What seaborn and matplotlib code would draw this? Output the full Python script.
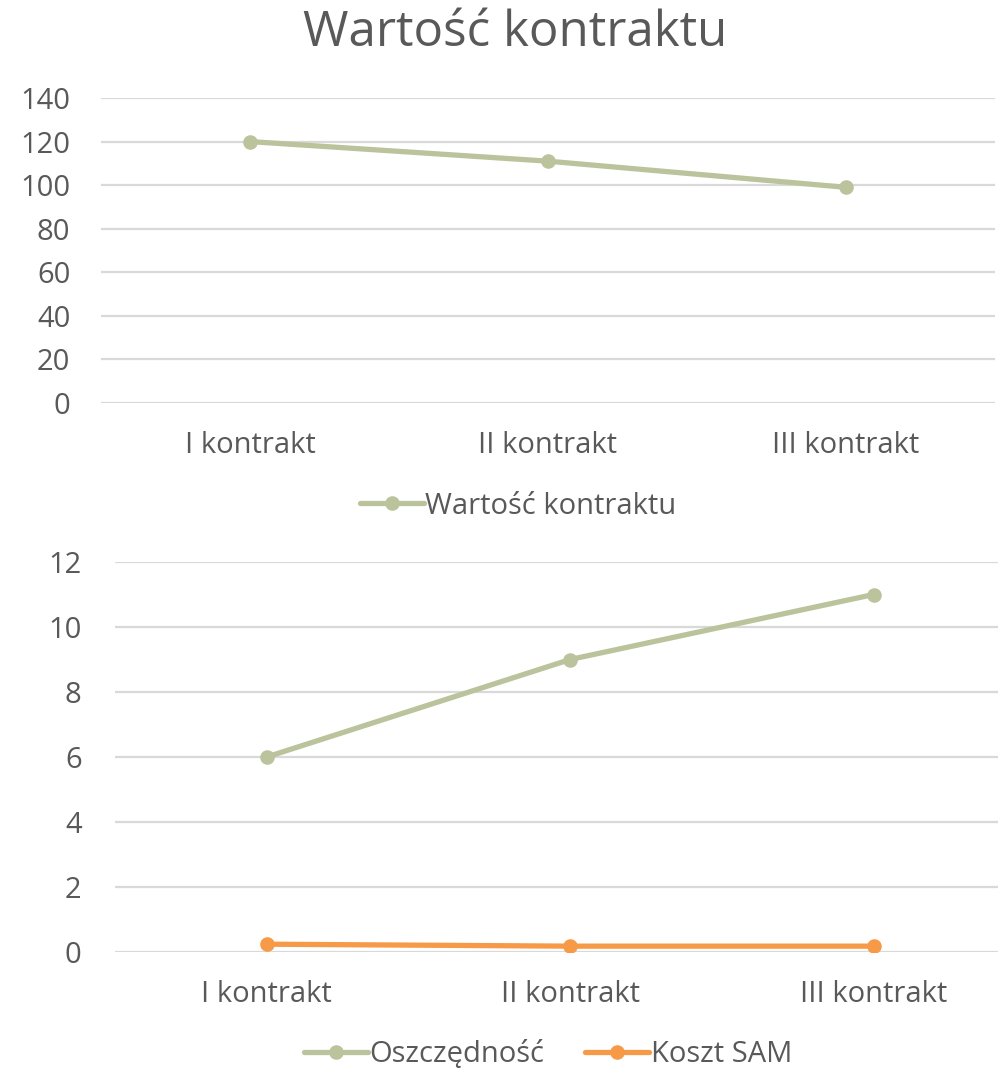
import matplotlib
matplotlib.use("Agg")
import matplotlib.pyplot as plt
import seaborn as sns
import pandas as pd

categories = ["I kontrakt", "II kontrakt", "III kontrakt"]
wartosc = [120, 111, 99]
oszczednosc = [6, 9, 11]
koszt_sam = [0.24, 0.18, 0.18]

top_ticks = [0, 20, 40, 60, 80, 100, 120, 140]
bottom_ticks = [0, 2, 4, 6, 8, 10, 12]

GREEN = "#BBC39D"
ORANGE = "#F79A48"
TEXT = "#595959"
GRID = "#D9D9D9"

sns.set_theme(style="white")
plt.rcParams["font.family"] = ["Open Sans", "DejaVu Sans"]

fig = plt.figure(figsize=(9.98, 10.72), dpi=100)

ax1 = fig.add_axes([101 / 998, 1 - 403 / 1072, 894 / 998, 305 / 1072])
ax2 = fig.add_axes([115 / 998, 1 - 952 / 1072, 883 / 998, 390 / 1072])

df1 = pd.DataFrame({"kat": categories, "val": wartosc, "s": "Wartość kontraktu"})
df2 = pd.concat([
    pd.DataFrame({"kat": categories, "val": oszczednosc, "s": "Oszczędność"}),
    pd.DataFrame({"kat": categories, "val": koszt_sam, "s": "Koszt SAM"}),
])

line_kw = dict(linewidth=3.8, marker="o", markersize=10.5, markeredgewidth=0)

sns.lineplot(data=df1, x="kat", y="val", hue="s", palette=[GREEN], sort=False,
             ax=ax1, legend=True, **line_kw)
sns.lineplot(data=df2, x="kat", y="val", hue="s", palette=[GREEN, ORANGE], sort=False,
             ax=ax2, legend=True, **line_kw)

for ax, ticks, xr, ypad in [(ax1, top_ticks, (-0.5, 2.5), 22), (ax2, bottom_ticks, (-0.5, 2.41), 24)]:
    ax.set_ylim(ticks[0], ticks[-1])
    ax.set_yticks(ticks)
    ax.set_xlim(*xr)
    ax.set_xlabel("")
    ax.set_ylabel("")
    for sp in ax.spines.values():
        sp.set_visible(False)
    ax.yaxis.grid(True, color=GRID, linewidth=1.6)
    ax.set_axisbelow(True)
    ax.tick_params(axis="both", length=0, labelsize=21, colors=TEXT)
    ax.tick_params(axis="y", pad=ypad)
    ax.tick_params(axis="x", pad=20)
    for t in ax.get_xticklabels() + ax.get_yticklabels():
        t.set_color(TEXT)

h1, l1 = ax1.get_legend_handles_labels()
ax1.legend_.remove()
fig.legend(h1, l1, loc="center", bbox_to_anchor=(518 / 998, 1 - 506 / 1072), frameon=False,
           fontsize=21, labelcolor=TEXT, handlelength=2.2, handletextpad=0.05)

h2, l2 = ax2.get_legend_handles_labels()
ax2.legend_.remove()
fig.legend(h2, l2, loc="center", bbox_to_anchor=(548 / 998, 1 - 1055 / 1072), frameon=False,
           fontsize=21, labelcolor=TEXT, ncol=2, handlelength=2.2, handletextpad=0.05,
           columnspacing=1.4)

fig.text(515 / 998, 1 - 33 / 1072, "Wartość kontraktu", ha="center", va="center",
         fontsize=35.5, color=TEXT)

fig.savefig("out.png", dpi=100)
